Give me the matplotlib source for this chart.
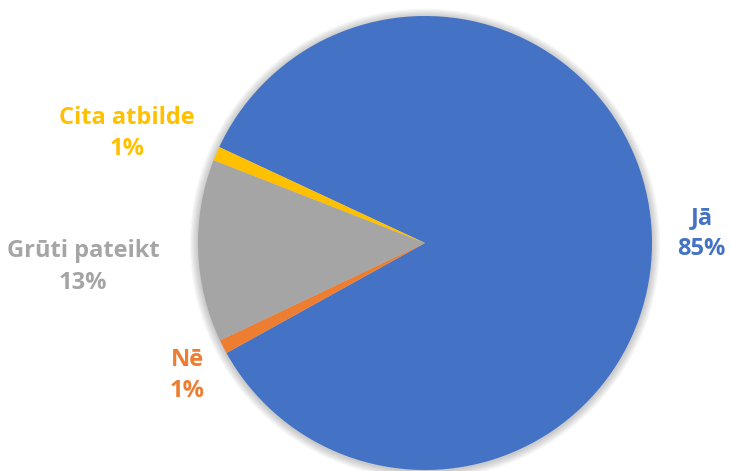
import numpy as np
import matplotlib
matplotlib.use("Agg")
import matplotlib.pyplot as plt
from matplotlib.patches import Circle

labels = ["Jā", "Nē", "Grūti pateikt", "Cita atbilde"]
values = [85, 1, 13, 1]
colors = ["#4472C4", "#ED7D31", "#A5A5A5", "#FFC000"]

# label distance from centre (in radii) and small angle nudge, per slice
label_dist = [1.22, 1.20, 1.51, 1.40]
label_nudge = [0, 2, 2, 3]

plt.rcParams["font.family"] = ["Open Sans", "DejaVu Sans"]

fig = plt.figure(figsize=(7.3, 4.71), dpi=100)
ax = fig.add_axes([0, 0, 1, 1])

# soft shadow round the pie
for i in range(6):
    ax.add_patch(Circle((0.0, -0.004), 1.0 + 0.006 * (i + 1), color="#000000",
                        alpha=0.035, lw=0, zorder=0))

wedges, _ = ax.pie(values, colors=colors, startangle=155, counterclock=False,
                   radius=1.0, wedgeprops=dict(linewidth=0, zorder=1))

total = sum(values)
for w, lab, v, col, d, nd in zip(wedges, labels, values, colors, label_dist, label_nudge):
    mid = np.deg2rad((w.theta1 + w.theta2) / 2 + nd)
    ax.text(d * np.cos(mid), d * np.sin(mid), f"{lab}\n{round(100 * v / total)}%",
            ha="center", va="center", color=col, fontsize=17, fontweight="bold",
            linespacing=1.4)

r_px = 227
ax.set_xlim(-425 / r_px, (730 - 425) / r_px)
ax.set_ylim(-(471 - 243) / r_px, 243 / r_px)
ax.set_aspect("auto")
ax.axis("off")

fig.savefig("out.png", dpi=100, facecolor="white")
